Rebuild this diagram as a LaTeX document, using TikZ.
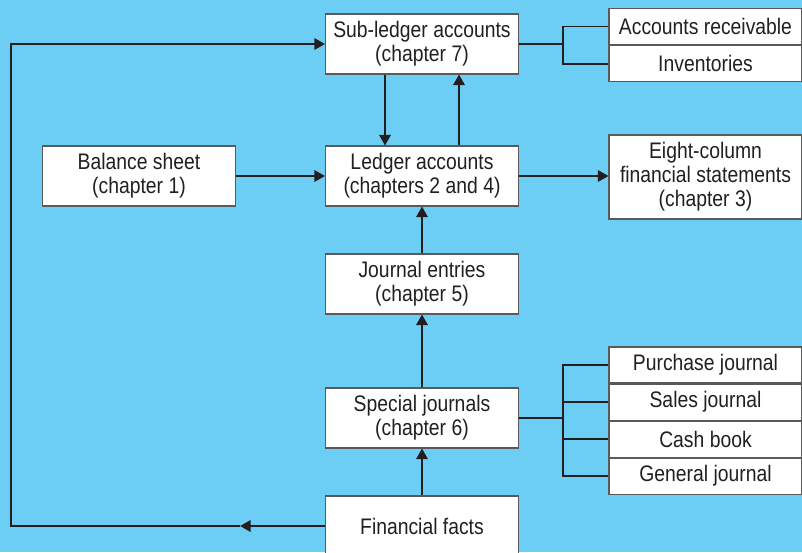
\documentclass[tikz,border=0pt]{standalone}
\usepackage{fontspec}
\setmainfont{Liberation Sans}[FakeStretch=0.86]
\usepackage{xcolor}
\usepackage{tikz}
\usetikzlibrary{positioning,arrows.meta}
\definecolor{sky}{HTML}{6DCEF5}
\definecolor{ink}{HTML}{231F20}
\definecolor{rim}{HTML}{5A5A5A}
\tikzset{
  box/.style={draw=rim, fill=white, line width=0.6pt, minimum width=3.86cm, minimum height=1.2cm,
    inner sep=0pt, align=center, font=\fontsize{12.8}{13.6}\selectfont, text=ink},
  item/.style={box, minimum height=0.72cm},
  tall/.style={box, minimum height=1.68cm},
  link/.style={draw=ink, line width=1.1pt},
  flow/.style={link, -{Triangle[length=6pt,width=6.5pt]}},
}
\begin{document}
\begin{tikzpicture}[x=0.02cm,y=-0.02cm]
  \useasboundingbox[fill=sky] (0,0) rectangle (802,552);
  % main column
  \node[box] (sub) at (422,44) {Sub-ledger accounts\\(chapter 7)};
  \node[box] (ledger) at (422,176) {Ledger accounts\\(chapters 2 and 4)};
  \node[box] (journal) at (422,284) {Journal entries\\(chapter 5)};
  \node[box] (special) at (422,418) {Special journals\\(chapter 6)};
  \node[box] (facts) at (422,526) {Financial facts};
  \node[box] (balance) at (139,176) {Balance sheet\\(chapter 1)};
  \node[tall] (eight) at (705.5,177) {Eight-column\\financial statements\\(chapter 3)};
  % sub-ledgers
  \node[item] (recv) at (705.5,26.5) {Accounts receivable};
  \node[item, below=0pt of recv] (inv) {Inventories};
  % special journals
  \node[item] (purch) at (705.5,365) {Purchase journal};
  \node[item, below=0pt of purch] (sales) {Sales journal};
  \node[item, below=0pt of sales] (cash) {Cash book};
  \node[item, below=0pt of cash] (general) {General journal};

  \coordinate (jsub) at (563,44);
  \coordinate (jspec) at (563,418);
  \coordinate (corner) at (11,526);
  \coordinate (mid) at (240,526);

  \draw[flow] (balance) -- (ledger);
  \draw[flow] (ledger) -- (eight.west |- ledger.east);
  \draw[flow] (sub.south -| 385,0) -- (ledger.north -| 385,0);
  \draw[flow] (ledger.north -| 459,0) -- (sub.south -| 459,0);
  \draw[flow] (journal) -- (ledger);
  \draw[flow] (special) -- (journal);
  \draw[flow] (facts) -- (special);
  \draw[flow] (facts.west) -- (mid);
  \draw[flow] (mid) -- (corner) |- (sub.west);

  \draw[link] (sub.east) -- (jsub);
  \draw[link] (recv.west) -| (jsub) |- (inv.west);
  \draw[link] (special.east) -- (jspec);
  \draw[link] (purch.west) -| (jspec) |- (general.west);
  \draw[link] (sales.west) -- (sales.west -| jspec);
  \draw[link] (cash.west) -- (cash.west -| jspec);
\end{tikzpicture}
\end{document}
